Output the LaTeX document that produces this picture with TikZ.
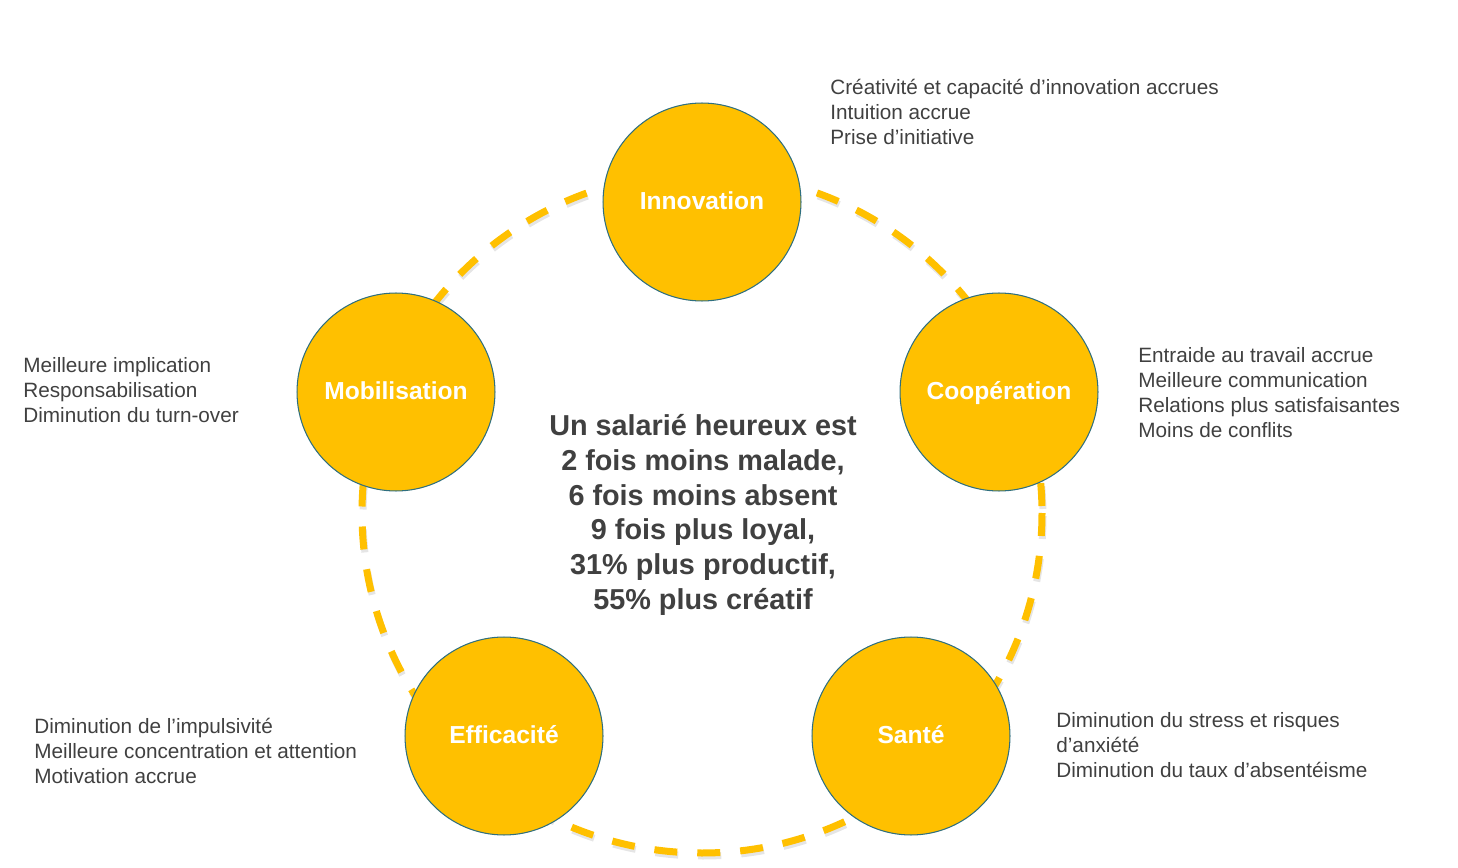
\documentclass[tikz,border=0pt]{standalone}
\usepackage{fontspec}
\setmainfont{Liberation Sans}
\definecolor{jaune}{HTML}{FFC000}
\definecolor{bord}{HTML}{2F6F7F}
\definecolor{texte}{HTML}{404040}
\begin{document}
\begin{tikzpicture}[x=0.02cm, y=-0.02cm, line join=round,
	bulle/.style={circle, fill=jaune, draw=bord, line width=0.6pt, minimum size=3.96cm, inner sep=0pt, text height=0.86em, text depth=0pt, text=white, font=\fontsize{14}{16}\selectfont\bfseries},
	liste/.style={anchor=west, align=left, inner sep=0pt, text=texte, font=\fontsize{11.8}{14.2}\selectfont},
	anneau/.style={line width=0.14cm, dash pattern=on 0.46cm off 0.40cm}]
	\useasboundingbox (0,0) rectangle (1458,868);
	\coordinate (O) at (702,513);
	% anneau en pointilles
	\draw[anneau, black!10] ([shift={(1,3)}]O) circle (340);
	\draw[anneau, jaune] (O) circle (340);
	% les cinq bulles
	\foreach \p/\n/\t in {(702,202)/inno/Innovation, (999,392)/coop/Coopération, (396,392)/mobi/Mobilisation, (504,736)/effi/Efficacité, (911,736)/sante/Santé}
		\node[bulle] (\n) at \p {\t};
	% listes
	\node[liste] (l-inno) at (830,112) {Créativité et capacité d’innovation accrues\\Intuition accrue\\Prise d’initiative};
	\node[liste] (l-coop) at (1138,393) {Entraide au travail accrue\\Meilleure communication\\Relations plus satisfaisantes\\Moins de conflits};
	\node[liste] (l-mobi) at (23,390) {Meilleure implication\\Responsabilisation\\Diminution du turn-over};
	\node[liste] (l-effi) at (34,751) {Diminution de l’impulsivité\\Meilleure concentration et attention\\Motivation accrue};
	\node[liste] (l-sante) at (1056,745) {Diminution du stress et risques\\d’anxiété\\Diminution du taux d’absentéisme};
	% texte central
	\node[align=center, inner sep=0pt, text=texte, font=\fontsize{16.4}{19.8}\selectfont\bfseries] (centre) at (703,515) {Un salarié heureux est\\2 fois moins malade,\\6 fois moins absent\\9 fois plus loyal,\\31\% plus productif,\\55\% plus créatif};
\end{tikzpicture}
\end{document}
